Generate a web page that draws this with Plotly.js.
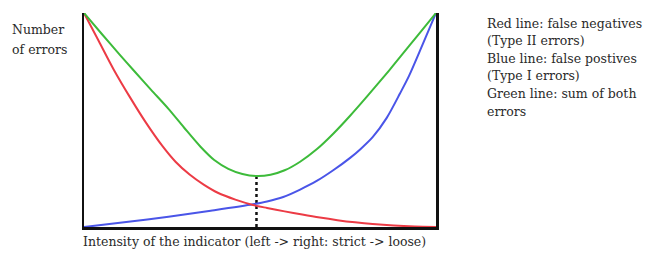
<!DOCTYPE html>
<html>
<head>
<meta charset="utf-8">
<script src="https://cdn.plot.ly/plotly-3.0.1.min.js"></script>
<style>html,body{margin:0;padding:0;background:#fff;}#chart{width:653px;height:256px;}</style>
</head>
<body>
<div id="chart"></div>
<script>
// x = indicator intensity (0..100), y = number of errors (0..100)
const redX   = [0, 4, 8.5, 13, 17.5, 22.2, 26, 30, 34, 38, 43, 48, 52, 57, 62, 67, 72, 77, 82, 88, 94, 100];
const redY   = [100, 87.5, 73.4, 60.8, 49.0, 38.0, 30.5, 24.5, 19.8, 16.0, 12.8, 10.3, 8.9, 7.3, 5.8, 4.4, 3.2, 2.2, 1.4, 0.7, 0.25, 0];
const greenX = [0, 5, 10, 14.2, 19, 24, 28.4, 33.1, 37, 41, 45, 49, 53, 57, 61.4, 66.1, 70.8, 75.6, 80.3, 86.6, 90, 95, 100];
const greenY = [100, 90.3, 80.8, 73.0, 64.2, 55.2, 46.5, 37.5, 31.3, 27.2, 24.8, 23.8, 24.4, 26.5, 30.5, 36.3, 43.6, 52.0, 60.8, 73.0, 79.8, 89.9, 100];
const blueX  = [0, 12, 24, 36, 48, 52, 56.6, 61.4, 66.1, 70.8, 75.6, 78.6, 82, 86, 89.8, 92.3, 96, 100];
const blueY  = [0, 2.3, 4.8, 7.6, 10.6, 11.9, 14.0, 17.5, 21.5, 26.5, 32.3, 36.5, 42.0, 51.0, 62.5, 70.5, 84.5, 100];
const optimumX = [49, 49];
const optimumY = [0, 23.8];

const yLabelLines = ["Number", "of errors"];
const xLabel = "Intensity of the indicator (left -> right: strict -> loose)";
const legendLines = ["Red line: false negatives", "(Type II errors)", "Blue line: false postives",
                     "(Type I errors)", "Green line: sum of both", "errors"];

const serif = "'DejaVu Serif', 'Liberation Serif', serif";
const textColor = "#2a2a2a";
const fs = 12.5;

const traces = [
  {x: optimumX, y: optimumY, mode: "lines", line: {color: "#111", width: 2.5, dash: "dot"}, hoverinfo: "skip"},
  {x: blueX, y: blueY, mode: "lines", line: {color: "#4a55e8", width: 2, shape: "spline", smoothing: 0.8}},
  {x: redX, y: redY, mode: "lines", line: {color: "#ec3b45", width: 2, shape: "spline", smoothing: 0.8}},
  {x: greenX, y: greenY, mode: "lines", line: {color: "#3dbb3a", width: 2, shape: "spline", smoothing: 0.8}}
];

const annotations = [];
const yLabelPos = [0.9206, 0.830];
yLabelLines.forEach((t, i) => annotations.push({
  xref: "paper", yref: "paper", x: -0.2116, y: yLabelPos[i], xanchor: "left", yanchor: "middle",
  text: t, showarrow: false, font: {family: serif, size: fs, color: textColor}}));
annotations.push({xref: "paper", yref: "paper", x: -0.008, y: -0.070, xanchor: "left", yanchor: "middle",
  text: xLabel, showarrow: false, font: {family: serif, size: fs, color: textColor}});
const legendPos = [0.952, 0.871, 0.788, 0.706, 0.623, 0.542];
legendLines.forEach((t, i) => annotations.push({
  xref: "paper", yref: "paper", x: 1.1378, y: legendPos[i], xanchor: "left", yanchor: "middle",
  text: t, showarrow: false, font: {family: serif, size: fs, color: textColor}}));

const layout = {
  width: 653, height: 256,
  margin: {l: 84, r: 217, t: 13, b: 29},
  paper_bgcolor: "#fff", plot_bgcolor: "#fff",
  showlegend: false,
  font: {family: serif},
  xaxis: {range: [0, 100], showgrid: false, zeroline: false, showticklabels: false, ticks: "",
          showline: true, linecolor: "#111", linewidth: 2.5},
  yaxis: {range: [0, 100], showgrid: false, zeroline: false, showticklabels: false, ticks: "",
          showline: true, mirror: true, linecolor: "#111", linewidth: 2.5},
  annotations: annotations
};

Plotly.newPlot("chart", traces, layout, {displayModeBar: false, staticPlot: true});
</script>
</body>
</html>
